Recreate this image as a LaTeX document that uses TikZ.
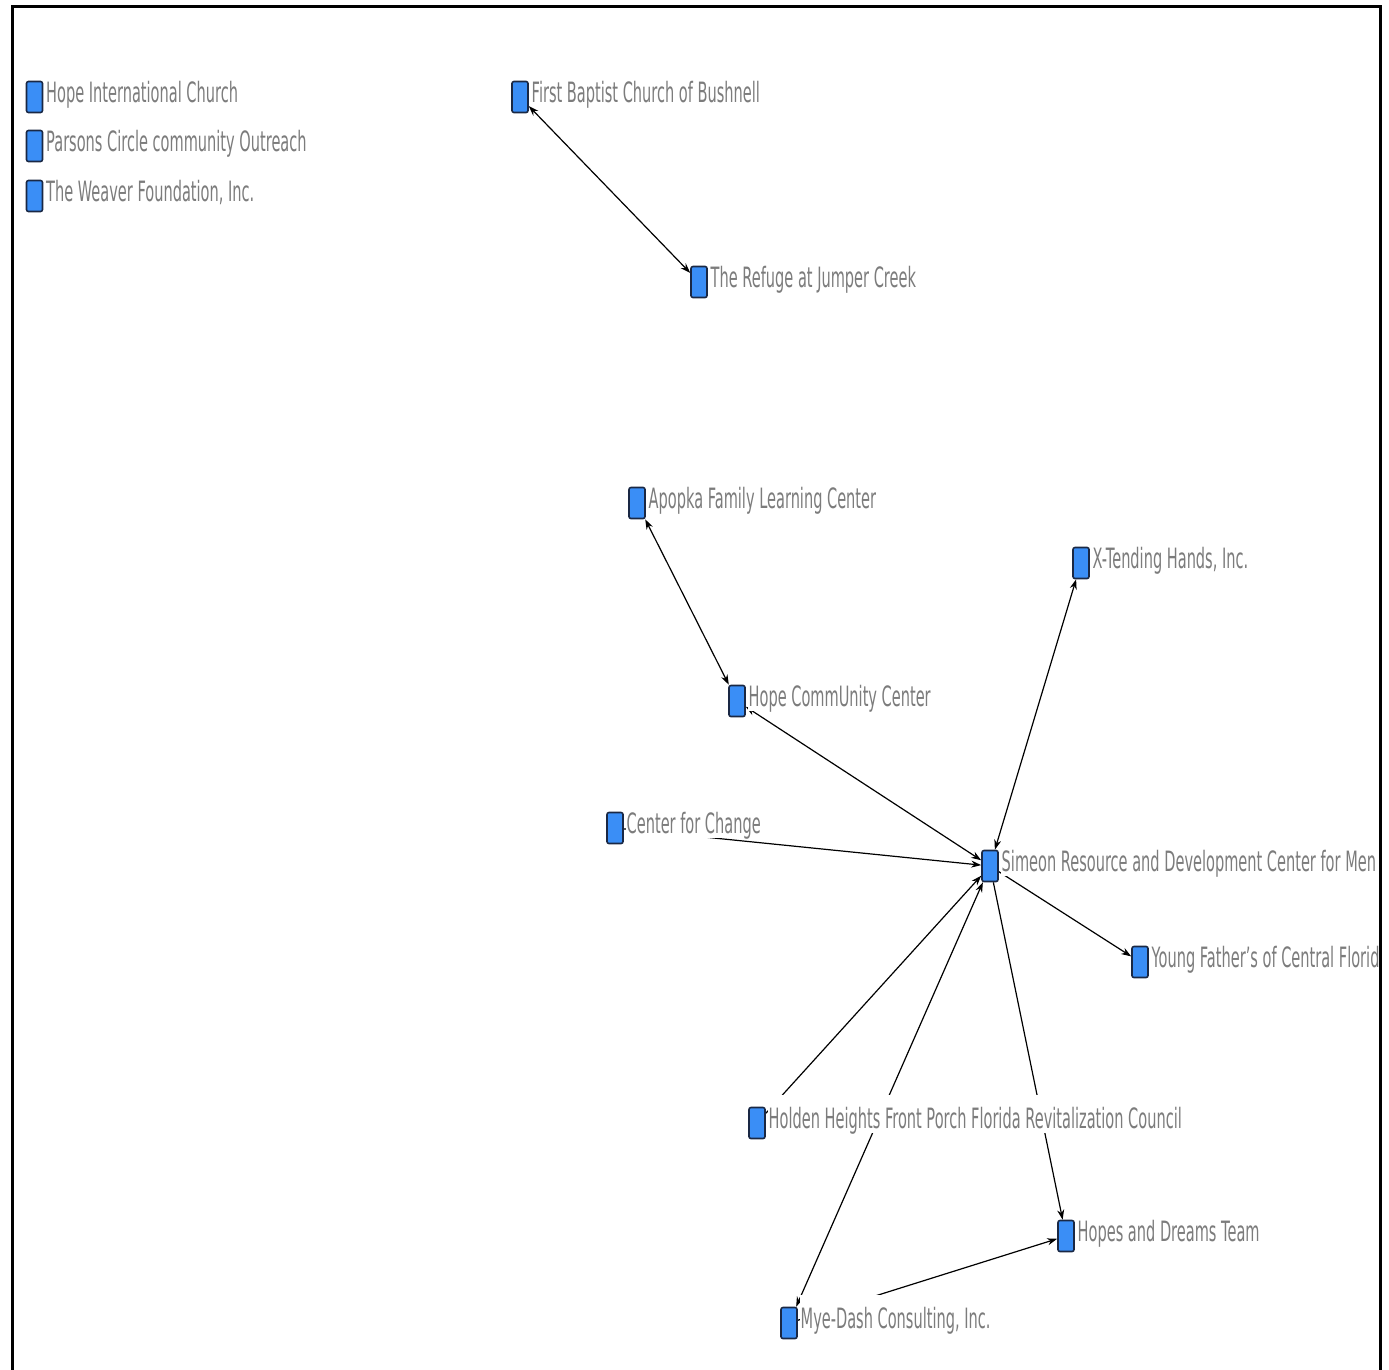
\documentclass[tikz,border=0pt]{standalone}
\usepackage{fontspec}
\setmainfont{DejaVu Sans}
\usetikzlibrary{arrows.meta}
\pgfdeclarelayer{edges}
\pgfdeclarelayer{paper}
\pgfsetlayers{paper,edges,main}
\definecolor{nodeblue}{HTML}{3A8EF6}
\definecolor{nodeedge}{HTML}{1A2844}
\definecolor{labelgray}{HTML}{7C7C7C}
\newcommand{\orgnode}[4]{%
  \node[sq] (#1) at (#2,#3) {};
  \node[lbl] (#1-t) at (#2+10.5,#3+5) {\scalebox{0.52}[1]{#4}};
}
\begin{document}
\begin{tikzpicture}[x=1pt,y=-1pt,
  sq/.style={draw=nodeedge, fill=nodeblue, line width=1.6pt, rounded corners=2pt,
    minimum width=16pt, minimum height=31pt, inner sep=0pt},
  lbl/.style={fill=white, text=labelgray, anchor=base west, inner xsep=1pt, inner ysep=0pt,
    text height=33pt, text depth=5pt, font=\fontsize{28}{32}\selectfont},
  tip/.tip={Stealth[length=10pt,width=7pt]},
  link/.style={line width=1.2pt, -tip},
  both/.style={line width=1.2pt, tip-tip},
  frame/.style={line width=3pt, line cap=rect}
]
\useasboundingbox (0,0) rectangle (1389,1369);
\begin{pgfonlayer}{paper}
\fill[white] (0,0) rectangle (1389,1369);
\end{pgfonlayer}

\begin{scope}
\clip (0,0) rectangle (1378,1369);
\orgnode{hic}{34.5}{97}{Hope International Church}
\orgnode{pco}{34.5}{146}{Parsons Circle community Outreach}
\orgnode{twf}{34.5}{196}{The Weaver Foundation, Inc.}
\orgnode{fbc}{520}{97}{First Baptist Church of Bushnell}
\orgnode{ref}{699}{282}{The Refuge at Jumper Creek}
\orgnode{apo}{637}{503}{Apopka Family Learning Center}
\orgnode{hcc}{737}{701}{Hope CommUnity Center}
\orgnode{cfc}{615}{828}{Center for Change}
\orgnode{sim}{990}{866}{Simeon Resource and Development Center for Men}
\orgnode{xth}{1081}{563}{X-Tending Hands, Inc.}
\orgnode{yfc}{1140}{962}{Young Father's of Central Florida}
\orgnode{hh}{757}{1123}{Holden Heights Front Porch Florida Revitalization Council}
\orgnode{hdt}{1066}{1236}{Hopes and Dreams Team}
\orgnode{mdc}{789}{1323}{Mye-Dash Consulting, Inc.}
\end{scope}

\begin{pgfonlayer}{edges}
\draw[both] (fbc) -- (ref);
\draw[both] (apo) -- (hcc);
\draw[both] (hcc) -- (sim);
\draw[link] (cfc) -- (sim);
\draw[both] (sim) -- (xth);
\draw[link] (sim) -- (yfc);
\draw[link] (hh) -- (sim);
\draw[both] (sim) -- (mdc);
\draw[link] (sim) -- (hdt);
\draw[link] (mdc) -- (hdt);
\end{pgfonlayer}

\draw[frame] (12,1369) -- (12,6) -- (1380,6) -- (1380,1369);
\end{tikzpicture}
\end{document}
